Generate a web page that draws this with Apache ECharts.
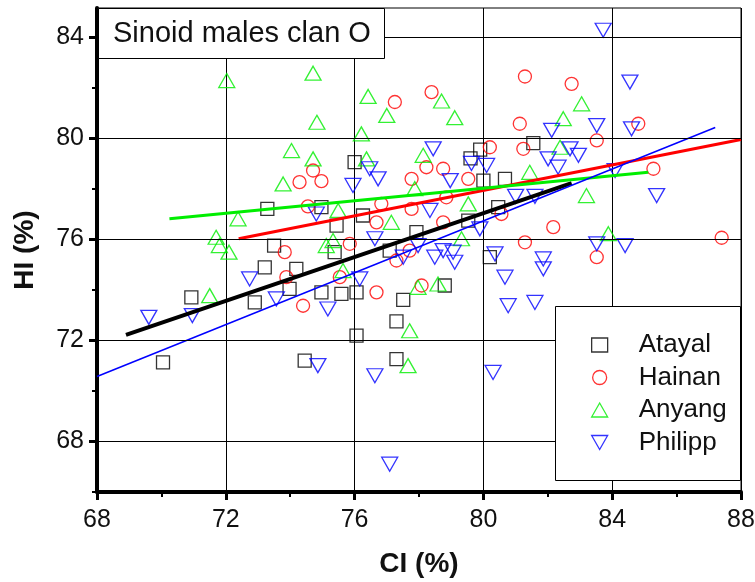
<!DOCTYPE html>
<html>
<head>
<meta charset="utf-8">
<title>Sinoid males clan O</title>
<script src="https://cdn.jsdelivr.net/npm/echarts@6/dist/echarts.min.js"></script>
<style>
  html, body { margin: 0; padding: 0; background: #fff; }
  #chart { width: 755px; height: 582px; }
</style>
</head>
<body>
<div id="chart"></div>
<script>
// CI (%) vs HI (%)
var atayalPoints = [
    [76.0, 79.05], [81.55, 79.8], [79.9, 79.55], [79.6, 79.2], [80.0, 78.32], [80.67, 78.39],
    [73.29, 77.2], [74.97, 77.27], [76.26, 76.94], [75.44, 76.54], [73.5, 75.75], [75.38, 75.49],
    [73.21, 74.89], [74.19, 74.83], [73.98, 74.04], [74.97, 73.9], [75.59, 73.84], [76.06, 73.9],
    [72.9, 73.5], [70.93, 73.7], [70.05, 71.13], [76.06, 72.19], [74.45, 71.2], [77.3, 71.26],
    [77.3, 72.75], [77.51, 73.6], [78.8, 74.17], [77.09, 75.55], [77.92, 76.28], [79.53, 76.74],
    [80.46, 77.27], [80.2, 75.29]
];
var hainanPoints = [
    [81.29, 82.44], [82.74, 82.15], [78.39, 81.82], [77.25, 81.43], [81.13, 80.57], [84.81, 80.57],
    [83.52, 79.91], [80.2, 79.64], [81.24, 79.58], [78.23, 78.85], [78.75, 78.79], [77.77, 78.39],
    [79.53, 78.39], [74.29, 78.26], [74.71, 78.72], [74.97, 78.3], [85.28, 78.79], [74.55, 77.3],
    [76.83, 77.4], [76.68, 76.67], [78.85, 77.66], [77.77, 77.2], [80.56, 77.0], [78.75, 76.67],
    [75.85, 75.82], [73.83, 75.49], [77.71, 75.55], [77.3, 75.16], [81.29, 75.88], [82.17, 76.48],
    [87.4, 76.06], [83.52, 75.29], [73.88, 74.5], [75.54, 74.5], [76.68, 73.9], [74.4, 73.37],
    [78.08, 74.17]
];
var anyangPoints = [
    [72.03, 82.28], [74.71, 82.57], [76.42, 81.65], [77.0, 80.9], [74.83, 80.63], [76.21, 80.17],
    [74.04, 79.51], [74.71, 79.18], [76.37, 79.18], [73.78, 78.19], [78.7, 81.47], [79.11, 80.81],
    [78.13, 79.32], [81.44, 78.65], [83.05, 81.36], [82.48, 80.77], [82.38, 79.64], [83.2, 77.73],
    [83.88, 76.22], [72.38, 76.81], [75.49, 77.14], [75.33, 75.95], [75.12, 75.75], [71.7, 76.08],
    [71.8, 75.75], [72.1, 75.49], [75.64, 74.76], [77.87, 78.0], [79.53, 77.4], [77.14, 76.67],
    [79.32, 76.02], [77.97, 74.1], [78.59, 74.23], [71.5, 73.77], [77.71, 72.38], [77.66, 71.0]
];
var philippPoints = [
    [83.72, 84.27], [84.55, 82.22], [82.12, 80.31], [83.52, 80.5], [84.6, 80.37], [82.69, 79.58],
    [82.95, 79.32], [82.01, 79.18], [82.32, 78.85], [78.44, 79.58], [79.63, 79.0], [80.1, 78.92],
    [78.97, 78.32], [76.47, 78.79], [76.73, 78.39], [75.95, 78.13], [74.81, 77.0], [76.63, 76.02],
    [72.74, 74.43], [76.16, 74.43], [73.57, 73.64], [75.17, 73.24], [69.61, 72.91], [70.96, 72.98],
    [74.86, 71.0], [76.63, 70.6], [77.09, 67.1], [80.3, 70.73], [80.77, 73.37], [81.6, 73.5],
    [80.67, 74.5], [81.86, 75.22], [81.86, 74.83], [80.36, 75.42], [77.51, 75.29], [77.97, 75.75],
    [78.49, 75.29], [78.75, 75.55], [79.06, 75.49], [79.11, 75.09], [79.89, 76.41], [78.34, 77.14],
    [81.0, 77.7], [81.6, 77.7], [84.09, 78.72], [85.38, 77.73], [83.52, 75.82], [84.4, 75.75]
];

// regression lines (end points)
var atayalFit = [[68.9, 72.22], [82.74, 78.22]];
var hainanFit = [[72.4, 76.02], [88.0, 79.95]];
var anyangFit = [[70.25, 76.81], [85.12, 78.65]];
var philippFit = [[68.0, 70.57], [87.2, 80.42]];

var xTicks = [68, 72, 76, 80, 84, 88];
var yTicks = [68, 72, 76, 80, 84];
var yMinorTicks = [66, 70, 74, 78, 82];
var yGrid = [68, 72, 76, 80, 84];

var FONT = '"Liberation Sans", Arial, sans-serif';

var chart = echarts.init(document.getElementById('chart'));

function scatter(name, data, symbol, size, color, rotate) {
    return {
        name: name,
        type: 'scatter',
        data: data,
        symbol: symbol,
        symbolSize: size,
        symbolRotate: rotate || 0,
        z: 2,
        itemStyle: {color: 'rgba(0,0,0,0)', borderColor: color, borderWidth: 1.3},
        emphasis: {disabled: true}
    };
}

function fitLine(name, data, color, width) {
    return {
        name: name,
        type: 'line',
        data: data,
        symbol: 'none',
        z: 3,
        lineStyle: {color: color, width: width},
        emphasis: {disabled: true}
    };
}

var atayalSeries = scatter('Atayal', atayalPoints, 'rect', 13, '#000000');
// horizontal grid lines, put on the first series
atayalSeries.markLine = {
    silent: true,
    symbol: ['none', 'none'],
    label: {show: false},
    lineStyle: {type: 'solid', color: '#000', width: 1},
    data: yGrid.map(function (v) { return {yAxis: v}; })
};

var option = {
    animation: false,
    backgroundColor: '#fff',
    grid: {
        left: 97, top: 8, width: 644, height: 484,
        show: true, borderColor: '#000', borderWidth: 1, backgroundColor: '#fff',
        containLabel: false, outerBoundsMode: 'none'
    },
    xAxis: {
        type: 'value',
        min: xTicks[0], max: xTicks[xTicks.length - 1], interval: 4,
        name: 'CI (%)', nameLocation: 'middle', nameGap: 58,
        nameTextStyle: {fontFamily: FONT, fontSize: 28, fontWeight: 'bold', color: '#111'},
        axisLine: {lineStyle: {color: '#000', width: 4}},
        axisTick: {length: 8, lineStyle: {color: '#000', width: 3}},
        minorTick: {show: true, splitNumber: 2, length: 5, lineStyle: {color: '#000', width: 2}},
        axisLabel: {fontFamily: FONT, fontSize: 25, color: '#111', margin: 16},
        splitLine: {show: true, lineStyle: {color: '#000', width: 1}}
    },
    yAxis: [{
        type: 'value', position: 'left',
        min: 66, max: 85.15, interval: 4,
        name: 'HI (%)', nameLocation: 'middle', nameGap: 58, nameRotate: 90,
        nameTextStyle: {fontFamily: FONT, fontSize: 28, fontWeight: 'bold', color: '#111'},
        axisLine: {lineStyle: {color: '#000', width: 4}},
        axisTick: {customValues: yMinorTicks, length: 5, lineStyle: {color: '#000', width: 2}},
        axisLabel: {customValues: yTicks, fontFamily: FONT, fontSize: 25, color: '#111', margin: 13},
        splitLine: {show: false}
    }, {
        // only carries the long ticks at the labelled values
        type: 'value', position: 'left', offset: 0,
        min: 66, max: 85.15, interval: 4,
        axisLine: {show: false},
        axisTick: {customValues: yTicks, length: 8, lineStyle: {color: '#000', width: 3}},
        axisLabel: {show: false},
        splitLine: {show: false}
    }],
    legend: {
        orient: 'vertical', left: 591, top: 332, padding: 0, z: 20,
        itemWidth: 16, itemHeight: 14, itemGap: 6.5,
        selectedMode: false,
        textStyle: {fontFamily: FONT, fontSize: 26, color: '#111', padding: [0, 0, 0, 26]},
        itemStyle: {borderWidth: 1.3},
        data: [
            {name: 'Atayal'},
            {name: 'Hainan'},
            {name: 'Anyang'},
            {name: 'Philipp', icon: 'path://M0,0L16,0L8,14Z'}
        ]
    },
    graphic: [
        {type: 'rect', z: 10, shape: {x: 98.5, y: 8.5, width: 286, height: 50},
            style: {fill: '#fff', stroke: '#000', lineWidth: 1}},
        {type: 'text', z: 11, x: 113, y: 34,
            style: {text: 'Sinoid males clan O', font: '29px ' + FONT, fill: '#111', verticalAlign: 'middle'}},
        {type: 'rect', z: 10, shape: {x: 555.5, y: 306.5, width: 185, height: 174},
            style: {fill: '#fff', stroke: '#000', lineWidth: 1}}
    ],
    series: [
        atayalSeries,
        scatter('Hainan', hainanPoints, 'circle', 13, '#ff0000'),
        scatter('Anyang', anyangPoints, 'triangle', [16, 14], '#00ee00'),
        scatter('Philipp', philippPoints, 'triangle', [16, 14], '#0000ff', 180),
        fitLine('Atayal fit', atayalFit, '#000000', 4),
        fitLine('Hainan fit', hainanFit, '#ff0000', 3),
        fitLine('Anyang fit', anyangFit, '#00ee00', 3),
        fitLine('Philipp fit', philippFit, '#0000ff', 1.5)
    ]
};

chart.setOption(option);
</script>
</body>
</html>
